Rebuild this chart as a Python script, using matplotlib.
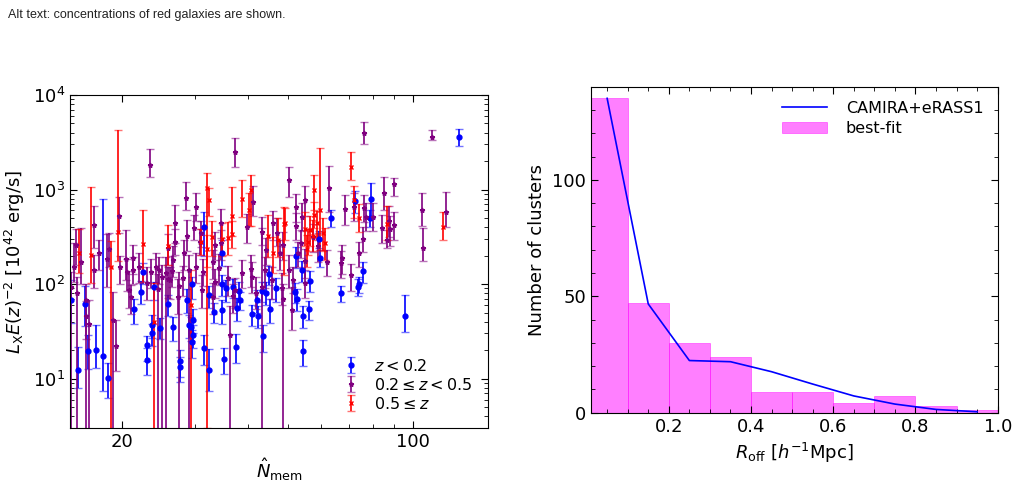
import matplotlib
matplotlib.use("Agg")
import matplotlib.pyplot as plt
import numpy as np
from matplotlib.ticker import MultipleLocator, NullFormatter, FixedLocator, FixedFormatter

plt.rcParams['font.family'] = ['DejaVu Sans']
plt.rcParams['mathtext.fontset'] = 'dejavusans'

# ---------------- left panel data: N_mem, L_X E(z)^-2, lower err, upper err ----------------
blue_N = [15.1, 15.7, 16.3, 16.6, 17.3, 18.0, 18.5, 21.4, 22.2, 22.4, 22.9, 22.9, 23.6, 23.6, 23.9,
          24.6, 25.8, 26.5, 27.5, 27.5, 28.6, 29.0, 29.2, 29.5, 29.5, 29.6, 29.6, 31.5, 31.5, 32.3,
          32.3, 33.2, 34.8, 34.8, 34.8, 35.2, 35.6, 36.9, 37.5, 37.7, 38.2, 38.3, 40.9, 42.2, 42.4,
          43.4, 43.6, 44.4, 45.1, 45.2, 46.9, 51.9, 52.4, 52.7, 53.9, 54.2, 54.4, 56.2, 56.6, 59.4,
          59.6, 63.6, 66.9, 72.4, 73.7, 74.0, 75.5, 78.5, 79.1, 95.5, 129.0]
blue_L = [67, 12.4, 61, 19.6, 20, 17.3, 10.2, 55, 82, 135, 22.5, 15.9, 37, 30, 92,
          34, 61, 35, 15.3, 13.1, 68, 37, 35, 100, 24.5, 42, 29, 399, 21, 12.4,
          76, 51, 215, 100, 53, 16.3, 90, 92, 21.7, 56, 85, 68, 48, 68, 46,
          85, 28, 80, 127, 54, 90, 83, 198, 70, 140, 46, 19.6, 54, 108, 300,
          190, 505, 80, 760, 94, 100, 138, 505, 800, 46, 3590]
blue_lo = [28, 4.5, 25, 7, 7, 10, 4, 17, 20, 35, 7, 5, 10, 8, 25,
           8, 15, 10, 5, 4, 18, 10, 10, 30, 8, 12, 8, 200, 7, 5,
           20, 12, 60, 25, 15, 5, 25, 20, 7, 15, 20, 15, 12, 18, 12,
           20, 9, 20, 30, 15, 25, 20, 50, 18, 35, 12, 6, 12, 25, 60,
           40, 100, 15, 200, 20, 20, 35, 100, 300, 15, 700]
blue_hi = [43, 9, 35, 9, 17, 780, 4.5, 15, 25, 30, 6, 5, 10, 8, 12,
           10, 15, 10, 5, 4, 20, 10, 10, 20, 8, 12, 8, 185, 8, 8,
           20, 12, 80, 25, 15, 5, 20, 20, 8, 15, 20, 15, 12, 18, 12,
           20, 9, 25, 30, 15, 25, 20, 50, 18, 35, 12, 6, 12, 30, 60,
           40, 100, 15, 200, 20, 20, 35, 100, 360, 30, 800]

purple_N = [15.1, 15.3, 15.5, 15.9, 16.4, 16.4, 17.1, 17.1, 16.7, 18.4, 18.6, 19.0, 19.3, 19.7, 19.8,
            20.4, 20.6, 20.8, 21.0, 21.2, 21.3, 23.3, 23.0, 24.1, 24.4, 24.5, 25.5, 25.8, 25.8, 26.1,
            26.3, 26.8, 26.8, 27.4, 28.0, 28.5, 28.7, 29.0, 29.8, 30.1, 30.7, 31.0, 31.2, 31.1, 37.3,
            33.4, 33.4, 33.1, 34.5, 34.5, 36.0, 36.3, 37.0, 37.3, 40.8, 41.3, 43.3, 43.3, 44.1, 47.0,
            47.8, 48.3, 48.7, 50.2, 50.2, 52.4, 52.4, 53.6, 54.0, 54.8, 54.9, 55.0, 51.2, 62.7, 62.0,
            66.9, 67.3, 68.4, 70.7, 72.0, 76.0, 74.0, 75.8, 76.3, 77.0, 79.8, 84.1, 84.9, 86.4, 87.6,
            87.9, 89.7, 89.9, 104.7, 105.3, 110.7, 119.9, 34.2, 38.7, 39.8, 41.0, 42.0, 44.4, 45.7, 46.1,
            48.6, 51.5, 52.9, 57.5, 59.0, 17.6, 15.6, 21.9, 23.5, 25.0, 26.5, 27.3, 28.2, 30.1, 33.0]
purple_L = [94, 153, 259, 170, 68, 46, 422, 141, 38, 183, 233, 42, 22, 526, 150,
            183, 135, 86, 73, 187, 141, 1825, 103, 153, 88, 141, 132, 239, 112, 110,
            137, 440, 281, 95, 115, 809, 325, 141, 389, 661, 281, 345, 135, 86, 2470,
            106, 259, 73, 270, 440, 115, 29, 75, 86, 143, 730, 94, 359, 141, 350,
            211, 90, 259, 1265, 141, 650, 412, 270, 517, 777, 177, 102, 53, 1033, 172,
            166, 187, 625, 124, 661, 3955, 211, 297, 634, 517, 517, 389, 914, 293, 466,
            380, 1148, 422, 609, 239, 3590, 584, 148, 130, 400, 120, 80, 230, 110, 440,
            70, 110, 211, 317, 250, 211, 80, 153, 135, 118, 180, 73, 211, 153, 172]
purple_lo = [94, 47, 100, 69, 68, 20, 184, 50, 38, 89, 80, 42, 10, 182, 50,
             73, 50, 30, 25, 60, 40, 475, 35, 50, 88, 40, 132, 80, 40, 40,
             45, 170, 80, 95, 40, 200, 100, 141, 100, 200, 80, 100, 40, 30, 720,
             35, 80, 25, 90, 130, 40, 29, 25, 30, 50, 200, 94, 100, 50, 100,
             70, 30, 80, 435, 50, 200, 120, 80, 150, 250, 60, 30, 20, 460, 50,
             50, 60, 200, 40, 200, 900, 60, 80, 180, 150, 150, 120, 300, 50, 150,
             130, 290, 130, 197, 62, 230, 184, 50, 40, 130, 40, 25, 70, 40, 150,
             70, 30, 60, 100, 80, 70, 80, 50, 45, 118, 60, 25, 70, 50, 60]
purple_hi = [40, 121, 120, 220, 33, 20, 248, 60, 30, 156, 111, 41, 20, 304, 50,
             190, 50, 50, 25, 70, 50, 845, 50, 60, 40, 50, 60, 100, 40, 40,
             60, 250, 100, 40, 40, 400, 150, 60, 150, 250, 100, 120, 50, 40, 1030,
             40, 100, 30, 100, 180, 40, 30, 25, 30, 60, 350, 300, 150, 50, 150,
             80, 40, 100, 485, 60, 250, 150, 100, 200, 300, 60, 40, 40, 720, 60,
             60, 70, 250, 40, 250, 1200, 70, 100, 250, 200, 200, 150, 436, 80, 200,
             150, 170, 150, 306, 151, 640, 366, 60, 50, 150, 50, 40, 80, 40, 150,
             30, 40, 70, 120, 100, 80, 40, 60, 50, 40, 70, 40, 80, 60, 60]

red_N = [15.8, 16.8, 18.8, 19.6, 22.5, 23.9, 25.8, 29.3, 32.0, 32.3, 32.9, 32.0, 31.0, 36.8, 36.8,
         38.9, 40.3, 40.8, 44.9, 46.1, 47.4, 49.0, 49.3, 54.9, 55.6, 55.8, 57.7, 57.7, 58.7, 59.7,
         60.8, 61.5, 56.6, 57.3, 70.7, 72.0, 74.0, 86.3, 117.7, 34.8, 36.0]
red_L = [211, 203, 153, 359, 265, 40, 253, 60, 1033, 780, 317, 233, 281, 526, 339,
         795, 609, 990, 325, 211, 293, 429, 440, 383, 233, 281, 1000, 538, 440, 609,
         345, 270, 370, 323, 1725, 777, 505, 429, 399, 297, 305]
red_lo = [80, 100, 152, 182, 160, 40, 95, 60, 1030, 250, 120, 80, 80, 200, 100,
          280, 200, 580, 130, 80, 100, 305, 150, 130, 80, 80, 400, 150, 150, 380,
          120, 90, 120, 100, 460, 277, 150, 136, 106, 100, 100]
red_hi = [170, 850, 130, 3940, 345, 62, 170, 80, 470, 250, 150, 100, 100, 530, 120,
          470, 300, 440, 215, 100, 207, 230, 200, 200, 100, 100, 430, 200, 150, 2130,
          150, 120, 150, 150, 765, 300, 200, 240, 186, 150, 150]

# ---------------- right panel data ----------------
bin_edges = [0.0, 0.1, 0.2, 0.3, 0.4, 0.5, 0.6, 0.7, 0.8, 0.9, 1.0]
bin_counts = [135, 47, 30, 24, 9, 9, 4, 7, 3, 1]
curve_x = [0.05, 0.15, 0.25, 0.35, 0.45, 0.55, 0.65, 0.75, 0.85, 0.95]
curve_y = [135, 46.7, 22.4, 21.9, 17.6, 12.3, 7.2, 3.7, 1.4, 0.4]

fig = plt.figure(figsize=(10.16, 4.84), dpi=100)
fig.text(0.008, 0.968, "Alt text: concentrations of red galaxies are shown.",
         fontsize=9, family=['Liberation Sans', 'DejaVu Sans'], color='#222222', va='center')

ax1 = fig.add_axes([70/1016, 1-428/484, (488-70)/1016, (428-95)/484])
ax2 = fig.add_axes([590.7/1016, 1-412.7/484, (997.7-590.7)/1016, (412.7-86.7)/484])

ax1.set_xscale('log')
ax1.set_yscale('log')

series = [
    (blue_N, blue_L, blue_lo, blue_hi, 'blue', 'o', 3.5, r'$z<0.2$'),
    (purple_N, purple_L, purple_lo, purple_hi, 'purple', '*', 3.5, r'$0.2\leq z<0.5$'),
    (red_N, red_L, red_lo, red_hi, 'red', 'x', 3.0, r'$0.5\leq z$'),
]
for N, L, lo, hi, col, mk, ms, lab in series:
    N = np.asarray(N); L = np.asarray(L, float)
    lo = np.asarray(lo, float); hi = np.asarray(hi, float)
    lo = np.minimum(lo, L * 0.999)
    cont = ax1.errorbar(N, L, yerr=[lo, hi], fmt=mk, color=col, ms=ms, mew=1.0,
                        elinewidth=1.2, capsize=3, capthick=1.2, label=lab)
    for cl in cont[1]:
        cl.set_alpha(0.55)

ax1.set_xlim(15, 151)
ax1.set_ylim(3, 1e4)
ax1.xaxis.set_major_locator(FixedLocator([20, 100]))
ax1.xaxis.set_major_formatter(FixedFormatter(['20', '100']))
ax1.xaxis.set_minor_formatter(NullFormatter())
ax1.tick_params(which='both', direction='in', top=True, right=True)
ax1.tick_params(which='major', length=5, labelsize=13)
ax1.tick_params(which='minor', length=3)
ax1.set_xlabel(r'$\hat{N}_{\rm mem}$', fontsize=13)
ax1.set_ylabel(r'$L_{\rm X}E(z)^{-2}$ [$10^{42}$ erg/s]', fontsize=13)
ax1.legend(loc='lower right', frameon=False, fontsize=11.5, handlelength=1.0,
           handletextpad=0.9, labelspacing=0.2, borderaxespad=0.6)

# right panel
widths = np.diff(bin_edges)
ax2.bar(bin_edges[:-1], bin_counts, width=widths, align='edge', color='magenta',
        alpha=0.5, linewidth=0.6, edgecolor='magenta', label='best-fit')
ax2.plot(curve_x, curve_y, color='blue', lw=1.2, label='CAMIRA+eRASS1')
ax2.set_xlim(0.01, 1.0)
ax2.set_ylim(0, 140)
ax2.xaxis.set_major_locator(MultipleLocator(0.2))
ax2.xaxis.set_minor_locator(MultipleLocator(0.05))
ax2.yaxis.set_major_locator(MultipleLocator(50))
ax2.yaxis.set_minor_locator(MultipleLocator(10))
ax2.set_xticks([0.2, 0.4, 0.6, 0.8, 1.0])
ax2.tick_params(which='both', direction='in', top=True, right=True)
ax2.tick_params(which='major', length=5, labelsize=13)
ax2.tick_params(which='minor', length=3)
ax2.set_xlabel(r'$R_{\rm off}$ [$h^{-1}$Mpc]', fontsize=13)
ax2.set_ylabel('Number of clusters', fontsize=13)
h, l = ax2.get_legend_handles_labels()
order = [l.index('CAMIRA+eRASS1'), l.index('best-fit')]
ax2.legend([h[i] for i in order], [l[i] for i in order], loc='upper right', frameon=False,
           fontsize=11.5, handlelength=2.8, handletextpad=1.2, labelspacing=0.3)

fig.savefig('out.png', dpi=100)
